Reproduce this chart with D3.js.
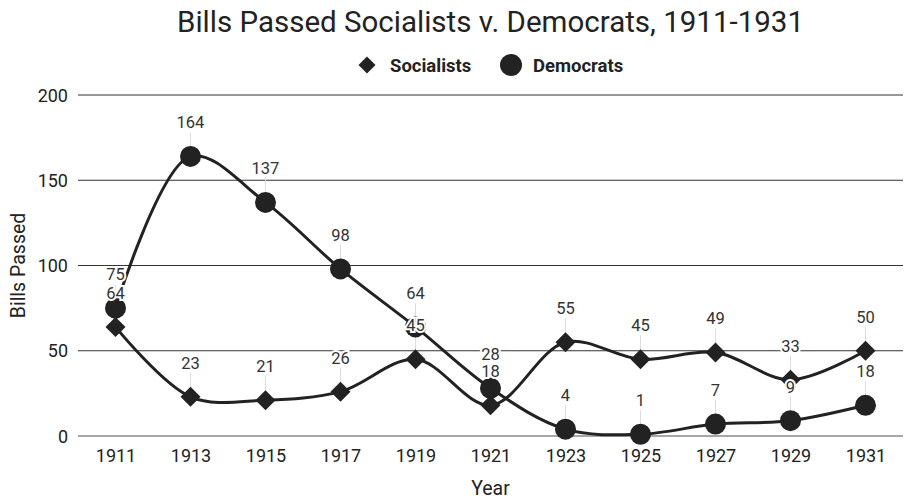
<!DOCTYPE html>
<html><head><meta charset="utf-8">
<script src="https://cdn.jsdelivr.net/npm/d3@7"></script>
<style>body{margin:0;background:#fff;}svg{display:block;font-family:Roboto,"Noto Sans",sans-serif;}</style>
</head><body><svg id="c" width="904" height="501"></svg>
<script>
const years = ["1911","1913","1915","1917","1919","1921","1923","1925","1927","1929","1931"];
const socialists = [64,23,21,26,45,18,55,45,49,33,50];
const democrats = [75,164,137,98,64,28,4,1,7,9,18];
const yTicks = [0,50,100,150,200];
const title = "Bills Passed Socialists v. Democrats, 1911-1931";
const seriesNames = ["Socialists","Democrats"];

const svg = d3.select("#c");
const L = 78, R = 903, T = 95, B = 436;
const x = d3.scalePoint().domain(years).range([L, R]).padding(0.5);
const y = d3.scaleLinear().domain([0,200]).range([B, T]);
const diamond = d3.symbol(d3.symbolSquare, 200)();

svg.append("text").attr("x",(L+R)/2).attr("y",32).attr("text-anchor","middle")
  .attr("font-size",29.5).attr("fill","#222").text(title);

// legend
const lg = svg.append("g");
lg.append("path").attr("d", diamond).attr("transform","translate(367,65) rotate(45) scale(0.85)").attr("fill","#222");
lg.append("text").attr("x",390).attr("y",71.5).attr("font-size",18.5).attr("font-weight","bold").attr("fill","#222").text(seriesNames[0]);
lg.append("circle").attr("cx",511).attr("cy",65).attr("r",11).attr("fill","#222");
lg.append("text").attr("x",533).attr("y",71.5).attr("font-size",18.5).attr("font-weight","bold").attr("fill","#222").text(seriesNames[1]);

// grid
const gy = svg.append("g");
gy.selectAll("line").data(yTicks).join("line")
  .attr("x1",L).attr("x2",R).attr("y1",d=>y(d)).attr("y2",d=>y(d))
  .attr("stroke",d=>d===0?"#888":"#333").attr("stroke-width",d=>d===0?1.5:1.2);
gy.selectAll("text").data(yTicks).join("text")
  .attr("x",68).attr("y",d=>y(d)+6.5).attr("text-anchor","end").attr("font-size",18).attr("fill","#222").text(d=>d);

const xa = svg.append("g").attr("transform",`translate(0,${B})`)
  .call(d3.axisBottom(x).tickSize(0).tickPadding(13));
xa.select(".domain").remove();
xa.selectAll("text").attr("font-size",18).attr("fill","#222").attr("font-family","Roboto,'Noto Sans',sans-serif");

svg.append("text").attr("x",(L+R)/2).attr("y",495).attr("text-anchor","middle").attr("font-size",19.5).attr("fill","#222").text("Year");
svg.append("text").attr("transform",`translate(25,${(T+B)/2}) rotate(-90)`).attr("text-anchor","middle").attr("font-size",19.5).attr("fill","#222").text("Bills Passed");

const line = d3.line().x((d,i)=>x(years[i])).y(d=>y(d)).curve(d3.curveCatmullRom.alpha(0.5));
const series = [
  {name:seriesNames[0], vals:socialists, shape:"diamond"},
  {name:seriesNames[1], vals:democrats, shape:"circle"}
];
series.forEach(s=>{
  svg.append("path").attr("d",line(s.vals)).attr("fill","none").attr("stroke","#222").attr("stroke-width",3);
});
// leader lines
series.forEach(s=>{
  svg.append("g").selectAll("line").data(s.vals).join("line")
    .attr("x1",(d,i)=>x(years[i])).attr("x2",(d,i)=>x(years[i]))
    .attr("y1",d=>y(d)-24).attr("y2",d=>y(d)-8)
    .attr("stroke","#ddd").attr("stroke-width",1);
});
series.forEach(s=>{
  const g = svg.append("g");
  if(s.shape==="circle"){
    g.selectAll("circle").data(s.vals).join("circle")
      .attr("cx",(d,i)=>x(years[i])).attr("cy",d=>y(d)).attr("r",10.5).attr("fill","#222");
  } else {
    g.selectAll("path").data(s.vals).join("path")
      .attr("d",diamond)
      .attr("transform",(d,i)=>`translate(${x(years[i])},${y(d)}) rotate(45)`).attr("fill","#222");
  }
});
series.forEach(s=>{
  svg.append("g").selectAll("text").data(s.vals).join("text")
    .attr("x",(d,i)=>x(years[i])).attr("y",d=>y(d)-28).attr("text-anchor","middle")
    .attr("font-size",16.5).attr("fill","#333")
    .attr("stroke","#fff").attr("stroke-width",4).attr("paint-order","stroke")
    .text(d=>d);
});
</script></body></html>
